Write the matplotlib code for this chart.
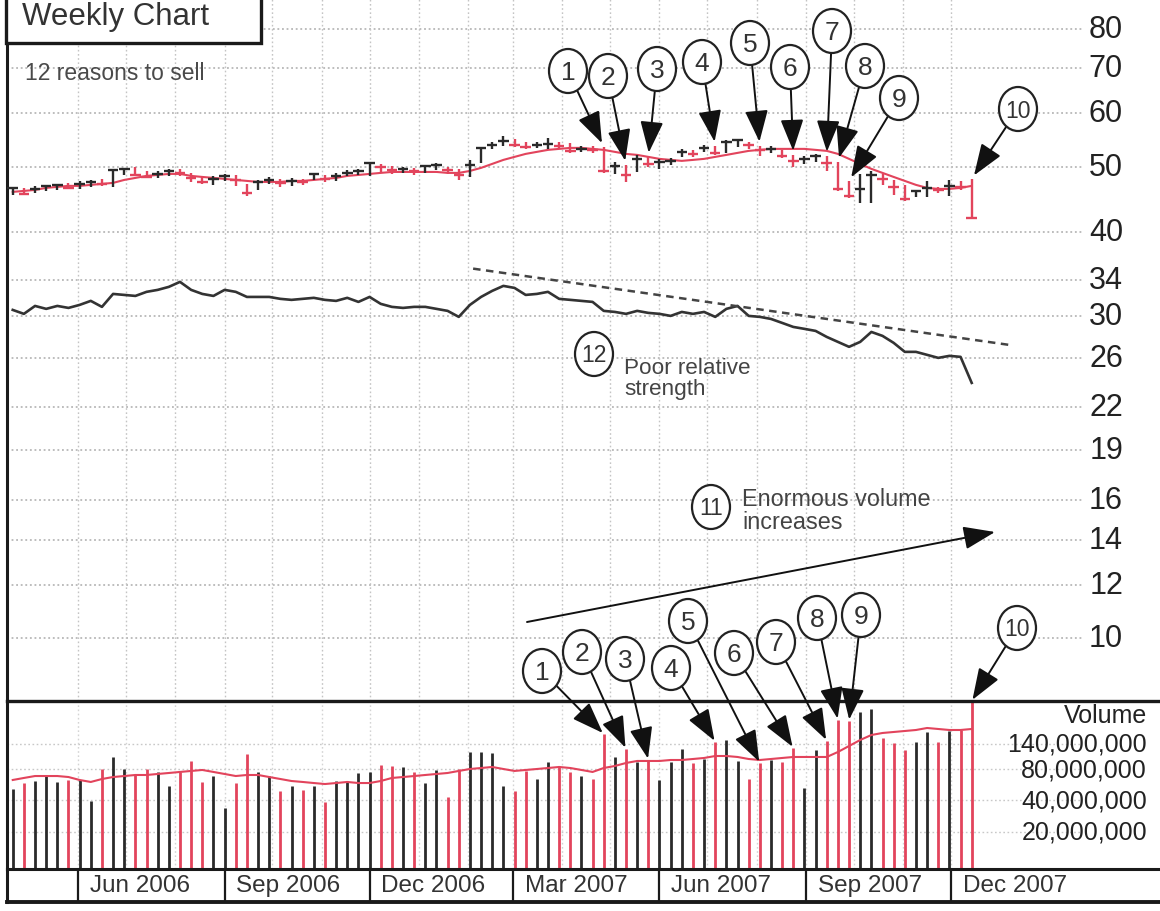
import matplotlib
matplotlib.use('Agg')
import matplotlib.pyplot as plt
import matplotlib.dates as mdates
import matplotlib.transforms as mtransforms
from matplotlib.patches import Ellipse, Rectangle, ArrowStyle
import numpy as np
import pandas as pd

plt.rcParams['font.family'] = ['Liberation Sans', 'DejaVu Sans']

# ── Weekly data (week ending Friday) ──────────────────────────────────────────
WEEKS = pd.date_range('2006-04-21', periods=87, freq='W-FRI')

HIGH = [46.66, 46.50, 46.82, 46.98, 47.14, 47.30, 47.62, 47.78, 47.95, 49.62,
        49.79, 49.96, 49.27, 49.27, 49.62, 49.62, 48.94, 48.44, 48.44, 48.77,
        48.60, 47.14, 47.78, 48.27, 47.95, 48.11, 47.95, 48.94, 48.60, 48.94,
        49.44, 49.62, 50.82, 50.47, 50.13, 49.96, 49.79, 50.30, 50.64, 49.96,
        49.62, 51.16, 53.48, 54.40, 55.52, 54.96, 54.40, 54.40, 55.15, 54.40,
        54.22, 53.67, 53.67, 53.48, 50.82, 50.30, 52.04, 51.69, 51.34, 51.52,
        53.12, 52.94, 53.85, 53.67, 54.77, 54.96, 54.40, 53.67, 53.67, 52.94,
        52.04, 51.87, 52.22, 51.87, 50.82, 47.62, 48.77, 49.27, 48.77, 47.78,
        46.98, 46.18, 47.62, 46.66, 47.78, 47.62, 47.95]

LOW = [45.40, 45.40, 45.71, 46.02, 46.18, 46.34, 46.34, 46.66, 46.82, 46.66,
       48.60, 48.44, 48.11, 48.11, 48.44, 48.44, 47.46, 47.14, 46.98, 47.62,
       46.82, 45.25, 46.18, 47.14, 46.66, 46.82, 46.98, 47.78, 47.46, 47.62,
       48.44, 48.60, 48.44, 49.10, 48.77, 48.94, 48.60, 48.94, 49.44, 48.77,
       47.78, 48.27, 50.64, 53.12, 53.67, 53.48, 53.12, 53.30, 53.12, 53.12,
       52.40, 52.58, 52.40, 48.94, 48.77, 47.46, 49.10, 49.96, 49.62, 50.30,
       51.69, 51.69, 52.58, 52.04, 52.40, 53.48, 53.12, 51.87, 52.40, 51.52,
       49.96, 50.47, 50.82, 49.27, 46.02, 44.94, 44.18, 44.18, 46.98, 45.40,
       44.48, 45.09, 45.09, 45.71, 45.25, 46.18, 41.80]

CLOSE = [46.50, 45.56, 46.34, 46.82, 46.98, 46.50, 47.14, 47.46, 47.14, 49.44,
         49.62, 48.60, 48.27, 48.77, 49.27, 48.94, 48.11, 47.46, 47.95, 48.44,
         47.78, 45.71, 47.46, 47.78, 47.30, 47.62, 47.46, 48.77, 47.95, 48.44,
         48.94, 49.27, 50.64, 49.96, 49.44, 49.62, 49.27, 50.13, 50.30, 49.44,
         48.60, 50.30, 53.30, 53.85, 54.59, 53.85, 53.48, 53.85, 54.03, 53.67,
         52.76, 53.12, 52.94, 49.27, 50.13, 48.60, 51.34, 50.47, 50.82, 50.99,
         52.58, 52.22, 53.30, 52.40, 54.40, 54.77, 53.85, 52.94, 53.12, 51.87,
         50.99, 51.34, 51.87, 50.64, 46.34, 45.25, 46.34, 48.60, 47.95, 46.66,
         44.79, 46.02, 46.50, 46.18, 46.82, 46.66, 41.90]

# 10-week moving average of price
MA10 = [45.87, 46.02, 46.18, 46.50, 46.66, 46.82, 46.82, 46.98, 47.14, 47.30,
        47.78, 48.11, 48.44, 48.60, 48.77, 48.77, 48.44, 48.27, 48.11, 47.95,
        47.78, 47.62, 47.46, 47.46, 47.46, 47.62, 47.62, 47.78, 47.95, 48.11,
        48.44, 48.60, 48.77, 48.94, 49.10, 49.10, 49.10, 49.10, 49.10, 48.94,
        48.94, 49.27, 49.79, 50.47, 51.16, 51.69, 52.22, 52.58, 52.94, 53.12,
        53.30, 53.30, 53.12, 52.94, 52.58, 52.22, 52.04, 51.69, 51.34, 51.16,
        50.99, 51.16, 51.34, 51.69, 52.04, 52.40, 52.76, 52.94, 53.12, 53.12,
        53.12, 53.12, 52.94, 52.76, 52.22, 51.34, 50.47, 49.62, 48.94, 48.27,
        47.62, 46.98, 46.50, 46.34, 46.34, 46.50, 46.82]

# relative strength line (plotted on the price scale)
RS = [30.66, 30.25, 31.08, 30.77, 31.08, 30.87, 31.19, 31.62, 30.98, 32.38,
      32.27, 32.16, 32.61, 32.83, 33.17, 33.74, 32.83, 32.38, 32.16, 32.83,
      32.61, 32.05, 32.05, 32.05, 31.84, 31.73, 31.84, 31.95, 31.73, 31.62,
      31.95, 31.51, 32.05, 31.30, 30.98, 30.87, 30.98, 30.98, 30.77, 30.56,
      29.94, 31.19, 32.05, 32.72, 33.28, 33.05, 32.27, 32.38, 32.61, 31.84,
      31.73, 31.62, 31.51, 30.56, 30.45, 30.25, 30.56, 30.35, 30.25, 30.04,
      30.45, 30.25, 30.45, 29.94, 30.77, 31.08, 30.04, 29.94, 29.73, 29.33,
      28.93, 28.74, 28.54, 27.96, 27.49, 27.03, 27.49, 28.44, 28.06, 27.40,
      26.57, 26.57, 26.30, 26.03, 26.21, 26.12, 23.90]

RS_TREND_DATES = ['2007-02-04', '2008-01-07']
RS_TREND_VALUES = [35.3, 27.2]

# weekly volume, millions of shares
VOLUME_M = [51.5, 58.8, 61.5, 68.7, 60.2, 62.9, 62.9, 39.4, 80.3, 104.9,
            80.3, 70.3, 80.3, 75.2, 55.0, 75.2, 96.0, 60.2, 68.7, 33.8,
            58.8, 112.1, 75.2, 68.7, 49.3, 55.0, 50.4, 55.0, 38.6, 61.5,
            60.2, 73.5, 75.2, 87.8, 85.9, 84.0, 75.2, 58.8, 78.6, 43.1,
            80.3, 117.2, 117.2, 114.6, 55.0, 49.3, 76.9, 64.3, 93.8, 85.9,
            75.2, 68.7, 64.3, 174.9, 104.9, 125.3, 93.8, 98.1, 62.9, 93.8,
            125.3, 91.8, 100.3, 146.4, 153.0, 96.0, 64.3, 91.8, 98.1, 93.8,
            128.1, 52.7, 122.5, 149.7, 238.6, 233.4, 285.1, 304.8, 160.0, 143.2,
            122.5, 146.4, 182.8, 146.4, 186.9, 191.1, 400.0]

VOL_MA_M = [62.9, 65.8, 68.7, 68.7, 68.7, 67.2, 62.9, 60.2, 64.3, 67.2,
            68.7, 70.3, 70.3, 71.9, 73.5, 75.2, 76.9, 78.6, 75.2, 71.9,
            68.7, 70.3, 70.3, 67.2, 64.3, 61.5, 60.2, 58.8, 57.5, 58.8,
            60.2, 58.8, 58.8, 61.5, 65.8, 67.2, 68.7, 70.3, 71.9, 73.5,
            76.9, 80.3, 82.1, 84.0, 80.3, 76.9, 78.6, 80.3, 82.1, 84.0,
            82.1, 78.6, 75.2, 82.1, 85.9, 91.8, 96.0, 96.0, 96.0, 98.1,
            98.1, 100.3, 102.6, 107.2, 107.2, 104.9, 100.3, 98.1, 100.3, 102.6,
            104.9, 104.9, 104.9, 104.9, 117.2, 133.9, 153.0, 171.0, 178.8, 182.8,
            186.9, 191.1, 199.8, 195.4, 191.1, 191.1, 195.4]

PRICE_TICKS = [80, 70, 60, 50, 40, 34, 30, 26, 22, 19, 16, 14, 12, 10]
VOL_TICKS_M = [140, 80, 40, 20]
VOL_TICK_LABELS = ['140,000,000', '80,000,000', '40,000,000', '20,000,000']
QUARTERS = ['2006-06-01', '2006-09-01', '2006-12-01', '2007-03-01',
            '2007-06-01', '2007-09-01', '2007-12-01']
QUARTER_LABELS = ['Jun 2006', 'Sep 2006', 'Dec 2006', 'Mar 2007',
                  'Jun 2007', 'Sep 2007', 'Dec 2007']
MONTHS = pd.date_range('2006-06-01', '2007-12-01', freq='MS')

# sell signals 1-10 (week index of the bar each arrow marks)
SIGNAL_WEEKS = [53, 55, 57, 63, 67, 70, 73, 74, 75, 86]

# ── Layout (pixels) ──────────────────────────────────────────────────────────
W, H = 1160, 912
LEFT = 7
PRICE_BOTTOM, VOL_BOTTOM, STRIP_BOTTOM = 702, 870, 903
RED = '#e2445c'
BLACK = '#2a2a2a'
GRID = '#ababab'
DOTS = (0, (1.2, 1.8))

PRICE_CIRCLES = [(568, 72), (608, 77), (657, 70), (702, 63), (750, 44),
                 (790, 68), (832, 32), (865, 67), (899, 99), (1018, 110)]
VOL_CIRCLES = [(542, 672), (582, 653), (625, 660), (671, 669), (688, 622),
               (734, 654), (776, 643), (817, 619), (861, 616), (1017, 629)]

x = mdates.date2num(WEEKS.to_pydatetime())
d0 = mdates.date2num(pd.Timestamp('2006-06-01').to_pydatetime())
XLIM = (d0 - 44.6, d0 + 679.2)
GRID_END = d0 + 630
colors = [BLACK] + [RED if c < p else BLACK for p, c in zip(CLOSE[:-1], CLOSE[1:])]

fig = plt.figure(figsize=(W / 100, H / 100), dpi=100)
fig.patch.set_facecolor('white')


def panel(top, bottom):
    a = fig.add_axes([LEFT / W, (H - bottom) / H, (W - LEFT) / W, (bottom - top) / H])
    a.set_xlim(*XLIM)
    a.tick_params(which='both', left=False, bottom=False, labelleft=False, labelbottom=False)
    for s in a.spines.values():
        s.set_visible(False)
    a.spines['left'].set_visible(True)
    a.spines['left'].set_linewidth(2.2)
    a.spines['left'].set_color('#1a1a1a')
    return a


# overlay in figure pixels for callouts
ov = fig.add_axes([0, 0, 1, 1], zorder=10)
ov.set_xlim(0, W)
ov.set_ylim(H, 0)
ov.axis('off')

# ── Price panel ──────────────────────────────────────────────────────────────
ax = panel(0, PRICE_BOTTOM)
ax.set_yscale('log')
ax.set_ylim(8.07, 88.6)
ax.yaxis.set_major_locator(matplotlib.ticker.NullLocator())
ax.yaxis.set_minor_locator(matplotlib.ticker.NullLocator())
ax.hlines(PRICE_TICKS, XLIM[0], GRID_END, colors=GRID, linestyles=DOTS, lw=1.1, zorder=1)
ax.vlines(mdates.date2num(MONTHS.to_pydatetime()), 8.07, 88.6,
          colors='#c4c4c4', linestyles=DOTS, lw=1.0, zorder=1)

ax.vlines(x, LOW, HIGH, colors=colors, lw=1.7, zorder=3)
ax.hlines(CLOSE, x - 3.3, x + 3.3, colors=colors, lw=1.7, zorder=3)
ax.plot(x, MA10, color=RED, lw=1.5, zorder=2)
ax.plot(x, RS, color='#333333', lw=1.9, zorder=3)
ax.plot(mdates.date2num([pd.Timestamp(d).to_pydatetime() for d in RS_TREND_DATES]),
        RS_TREND_VALUES, color='#444444', lw=1.8, ls=(0, (3, 2.2)), zorder=3)

label_tf = mtransforms.blended_transform_factory(ov.transData, ax.transData)
for v in PRICE_TICKS:
    ax.text(1123, v, str(v), transform=label_tf, ha='right', va='center',
            fontsize=22, color='#222222')

# ── Volume panel ─────────────────────────────────────────────────────────────
axv = panel(PRICE_BOTTOM, VOL_BOTTOM)
axv.set_yscale('log')
VOL_LIM = (8.7e6, 364e6)
axv.set_ylim(*VOL_LIM)
axv.yaxis.set_major_locator(matplotlib.ticker.NullLocator())
axv.yaxis.set_minor_locator(matplotlib.ticker.NullLocator())
axv.spines['top'].set_visible(True)
axv.spines['top'].set_linewidth(2.4)
axv.spines['top'].set_color('#1a1a1a')
vol = np.array(VOLUME_M) * 1e6
axv.hlines(np.array(VOL_TICKS_M) * 1e6, XLIM[0], GRID_END, colors='#c8c8c8',
           linestyles=DOTS, lw=1.0, zorder=1)
axv.vlines(mdates.date2num(MONTHS.to_pydatetime()), *VOL_LIM,
           colors='#d4d4d4', linestyles=DOTS, lw=1.0, zorder=1)
axv.vlines(x, 1e6, vol, colors=colors, lw=2.0, zorder=2)
axv.plot(x, np.array(VOL_MA_M) * 1e6, color=RED, lw=1.5, zorder=3)

vlabel_tf = mtransforms.blended_transform_factory(ov.transData, axv.transData)
for v, lab in zip(VOL_TICKS_M, VOL_TICK_LABELS):
    axv.text(1147, v * 1e6, lab, transform=vlabel_tf, ha='right', va='center',
             fontsize=18, color='#222222')
ov.text(1147, 716, 'Volume', ha='right', va='center', fontsize=18, color='#222222')

# ── Date strip ───────────────────────────────────────────────────────────────
axd = panel(VOL_BOTTOM, STRIP_BOTTOM)
axd.set_ylim(0, 1)
axd.spines['top'].set_visible(True)
axd.spines['top'].set_linewidth(2.2)
axd.spines['bottom'].set_visible(True)
axd.spines['bottom'].set_linewidth(2.8)
for s in ('top', 'bottom'):
    axd.spines[s].set_color('#1a1a1a')
for q, lab in zip(QUARTERS, QUARTER_LABELS):
    qx = mdates.date2num(pd.Timestamp(q).to_pydatetime())
    axd.axvline(qx, color='#1a1a1a', lw=1.6)
    axd.annotate(lab, xy=(qx, 0.5), xycoords='data', xytext=(8.5, 0),
                 textcoords='offset points', ha='left', va='center',
                 fontsize=17.5, color='#333333')

# ── Callouts ─────────────────────────────────────────────────────────────────
ARROW = dict(arrowstyle=ArrowStyle('-|>', head_length=1.5, head_width=0.55),
             mutation_scale=13, color='#111111', lw=1.4, shrinkA=15, shrinkB=3)


def circled(cx, cy, label):
    ov.add_patch(Ellipse((cx, cy), 38, 44, fc='white', ec='#222222', lw=1.6, zorder=6))
    ov.text(cx, cy + 1, label, ha='center', va='center',
            fontsize=19 if len(label) == 1 else 16.5, color='#333333', zorder=7)


for n, (i, c) in enumerate(zip(SIGNAL_WEEKS, PRICE_CIRCLES), start=1):
    ov.annotate('', xy=(x[i], HIGH[i]), xycoords=ax.transData,
                xytext=c, textcoords='data', arrowprops=ARROW, zorder=5)
    circled(*c, str(n))

for n, (i, c) in enumerate(zip(SIGNAL_WEEKS, VOL_CIRCLES), start=1):
    top = min(vol[i], VOL_LIM[1])
    ov.annotate('', xy=(x[i], top), xycoords=axv.transData,
                xytext=c, textcoords='data',
                arrowprops=dict(ARROW, shrinkB=1), zorder=5)
    circled(*c, str(n))

# 11: volume trend arrow
ov.annotate('', xy=(995, 533), xytext=(527, 623),
            arrowprops=dict(ARROW, shrinkA=0, shrinkB=0), zorder=5)
circled(711, 508, '11')
ov.text(742, 511, 'Enormous volume\nincreases', ha='left', va='center',
        linespacing=1.05, fontsize=16.8, color='#444444')

circled(594, 355, '12')
ov.text(624, 379, 'Poor relative\nstrength', ha='left', va='center',
        linespacing=1.05, fontsize=16.2, color='#444444')

# title box
ov.add_patch(Rectangle((LEFT - 1, -10), 255, 54, fc='white', ec='#1a1a1a', lw=2.4, zorder=6))
ov.text(22, 25, 'Weekly Chart', ha='left', va='baseline', fontsize=22.5,
        color='#333333', zorder=7)
ov.text(25, 74, '12 reasons to sell', ha='left', va='center', fontsize=16.5,
        color='#4a4a4a')

fig.savefig('out.png', dpi=100, facecolor='white')
